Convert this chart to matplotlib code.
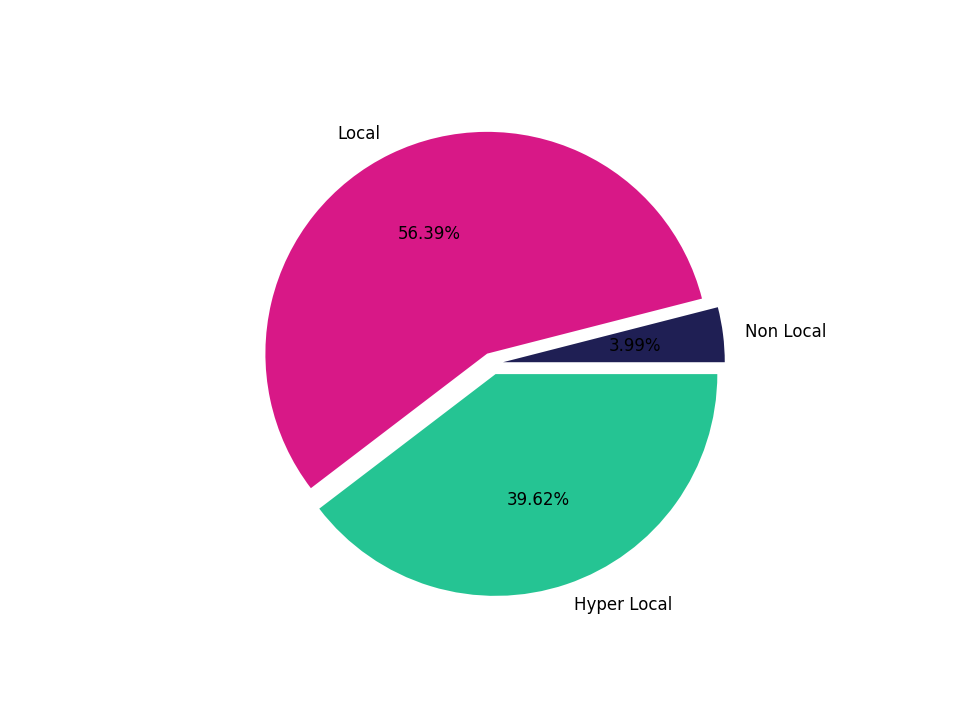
import matplotlib
matplotlib.use("Agg")
import matplotlib.pyplot as plt

labels = ["Non Local", "Local", "Hyper Local"]
values = [3.99, 56.38, 39.62]
colors = ["#1f1f54", "#d81887", "#25c493"]

fig, ax = plt.subplots(figsize=(9.6, 7.2), dpi=100)
ax.pie(values, labels=labels, colors=colors, autopct="%.2f%%",
       explode=[0.05, 0.05, 0.05], textprops={"fontsize": 12})
fig.savefig("out.png")
